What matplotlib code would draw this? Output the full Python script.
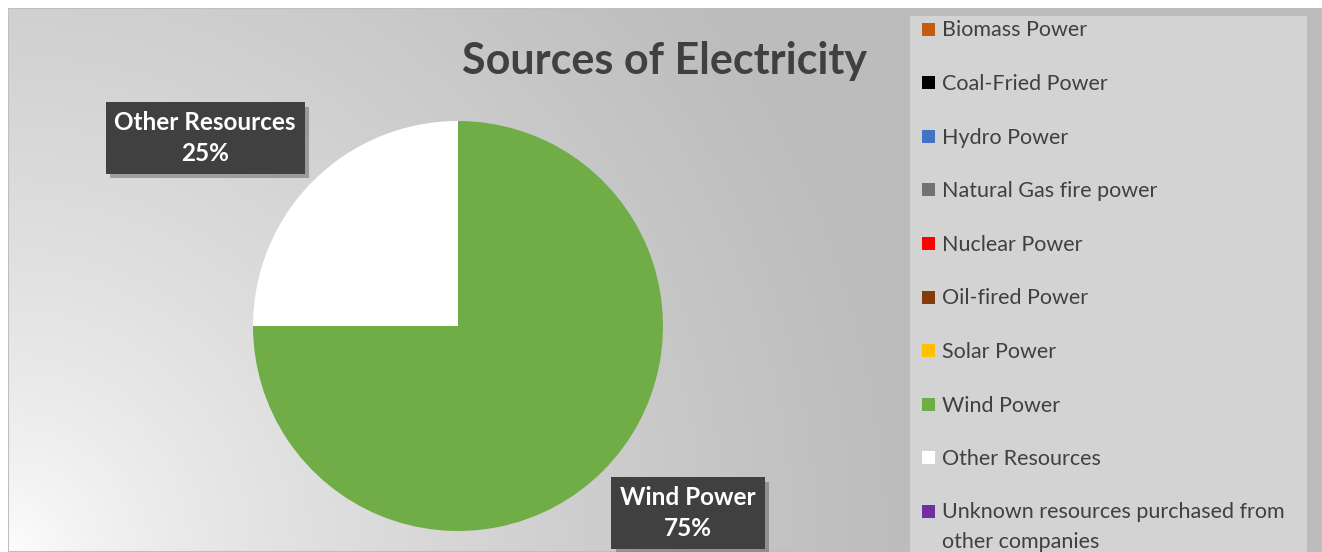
import numpy as np
import matplotlib
matplotlib.use('Agg')
import matplotlib.pyplot as plt
import matplotlib.patheffects as pe
from matplotlib.patches import Rectangle

# data
sources = ['Biomass Power', 'Coal-Fried Power', 'Hydro Power', 'Natural Gas fire power',
           'Nuclear Power', 'Oil-fired Power', 'Solar Power', 'Wind Power',
           'Other Resources', 'Unknown resources purchased from\nother companies']
shares = [0, 0, 0, 0, 0, 0, 0, 75, 25, 0]
colors = ['#C55A11', '#000000', '#4472C4', '#767171', '#FF0000', '#843C0C',
          '#FFC000', '#70AD47', '#FFFFFF', '#7030A0']

plt.rcParams['font.family'] = ['Lato', 'DejaVu Sans']

W, H = 1322, 552
fig = plt.figure(figsize=(W / 100, H / 100), dpi=100)
fig.patch.set_facecolor('white')

def px(x0, y0, w, h):
    # pixel box (top-left origin) -> figure fraction
    return [x0 / W, 1 - (y0 + h) / H, w / W, h / H]

# chart background with radial gradient from bottom-left
bg = fig.add_axes(px(8, 8, W - 8, H - 8))
yy, xx = np.mgrid[0:H - 8, 0:W - 8]
d = np.hypot(xx, (H - 8) - yy)
t = np.clip(d / 900.0, 0, 1) ** 0.7
g = 1 - t * (1 - 188 / 255)
bg.imshow(np.dstack([g, g, g]), aspect='auto', interpolation='bilinear')
bg.set_axis_off()
bg.add_patch(Rectangle((0, 0), 1, 1, transform=bg.transAxes, fill=False,
                       ec='#bfbfbf', lw=1.5))

# title
fig.text(665 / W, 1 - 61 / H, 'Sources of Electricity', ha='center', va='center',
         fontsize=31, fontweight='bold', color='#404040')

# pie
R = 205
cx, cy = 458, 326
ax = fig.add_axes(px(cx - R, cy - R, 2 * R, 2 * R))
ax.pie(shares, colors=colors, startangle=90, counterclock=False, radius=1,
       wedgeprops=dict(linewidth=0))
ax.set_xlim(-1, 1)
ax.set_ylim(-1, 1)
ax.set_axis_off()

def data_label(name, val, x, y):
    txt = ax.text(x, y, f'{name}\n{val}%', ha='center', va='center', fontsize=17.5,
                  fontweight='bold', color='white', linespacing=1.4, clip_on=False,
                  bbox=dict(boxstyle='square,pad=0.36', fc='#404040', ec='none', lw=0))
    txt.get_bbox_patch().set_path_effects(
        [pe.SimplePatchShadow(offset=(3, -3), shadow_rgbFace='#333333', alpha=0.35),
         pe.Normal()])

for name, val in zip(sources, shares):
    if name == 'Other Resources':
        data_label(name, val, (205 - cx) / R, (cy - 138) / R)
    elif name == 'Wind Power':
        data_label(name, val, (688 - cx) / R, (cy - 513) / R)

# legend panel
lx, ly = 910, 16
lg = fig.add_axes(px(lx, ly, 397, H - ly))
lg.set_xlim(0, 397)
lg.set_ylim(H - ly, 0)
lg.set_facecolor('#d3d3d3')
for s in lg.spines.values():
    s.set_visible(False)
lg.set_xticks([])
lg.set_yticks([])
for i, (name, c) in enumerate(zip(sources, colors)):
    yc = 29 - ly + i * 53.6
    n_extra = name.count('\n')
    lg.add_patch(Rectangle((12, yc - 6.5), 13, 13, fc=c, ec='none'))
    lg.text(32, yc + 7.5 + n_extra * 29, name, ha='left', va='baseline',
            fontsize=15.5, color='#404040', linespacing=1.6)

fig.savefig('out.png', dpi=100)
